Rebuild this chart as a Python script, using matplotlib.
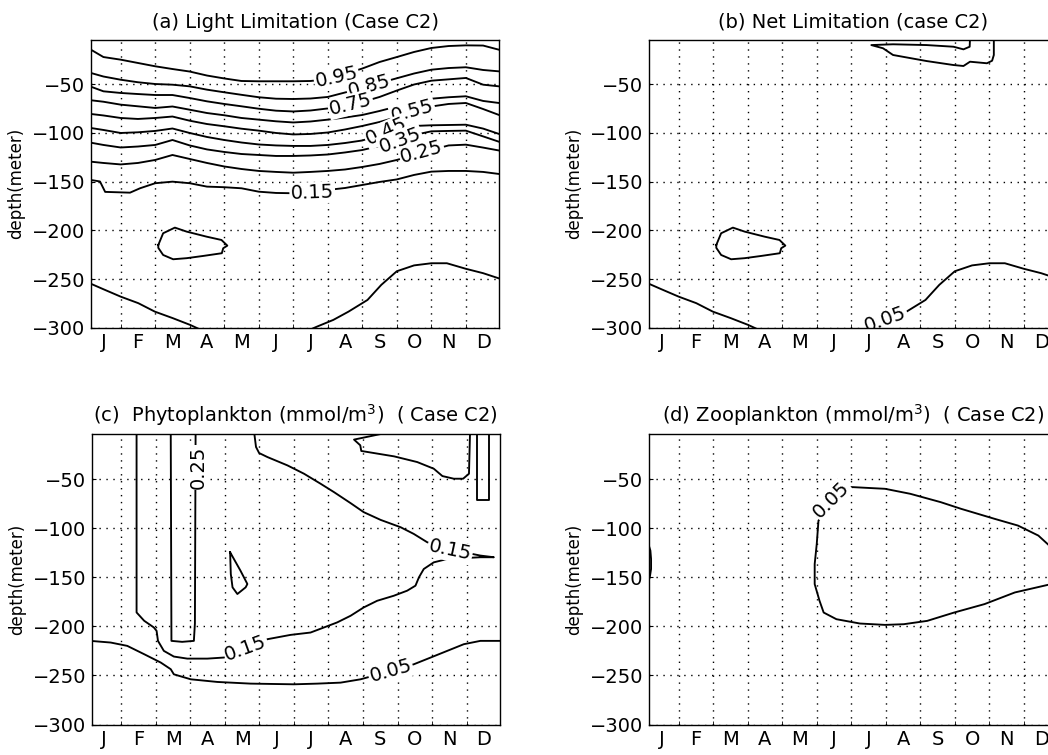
import matplotlib
matplotlib.use("Agg")
import matplotlib.pyplot as plt

plt.rcParams['font.family'] = ['DejaVu Sans']

# ---- axes description -------------------------------------------------
MONTH_LABELS = ['J', 'F', 'M', 'A', 'M', 'J', 'J', 'A', 'S', 'O', 'N', 'D']
DEPTH_TICKS = [-300, -250, -200, -150, -100, -50]
# time axis in months: 0 = 1 Jan, 1 = 1 Feb, ...
XLIM = (0.14, 11.96)

# ---- (a) light limitation: depth (m) of each isoline ------------------
months_a = [0.14, 0.5, 1.0, 1.5, 2.0, 2.5, 3.0, 3.5, 4.0, 4.5, 5.0, 5.5, 6.0,
            6.5, 7.0, 7.5, 8.0, 8.5, 9.0, 9.5, 10.0, 10.5, 11.0, 11.5, 11.96]
light_095 = [-14.5, -22.0, -24.7, -28.1, -31.5, -34.3, -36.9, -41.0, -44.0,
             -46.6, -46.9, -46.9, -46.9, -46.6, -44.6, -39.4, -33.8, -27.1,
             -22.0, -16.8, -12.7, -10.7, -10.0, -10.2, -14.5]
light_085 = [-38.4, -42.0, -45.3, -47.9, -49.7, -50.4, -52.1, -55.5, -58.2,
             -60.8, -63.3, -64.8, -65.1, -64.6, -63.0, -58.4, -53.8, -48.7,
             -43.8, -38.9, -35.0, -33.3, -32.5, -35.3, -36.7]
light_075 = [-52.5, -57.2, -58.9, -60.0, -61.0, -61.0, -64.1, -67.5, -70.2,
             -72.6, -75.1, -77.1, -77.9, -76.9, -74.8, -71.8, -68.2, -63.0,
             -56.4, -50.2, -46.3, -44.9, -43.5, -50.4, -52.1]
light_065 = [-66.4, -67.9, -70.9, -72.6, -74.3, -72.8, -76.1, -79.5, -81.8,
             -84.6, -86.3, -88.0, -89.2, -88.2, -86.3, -84.1, -81.5, -77.4,
             -72.8, -68.2, -64.8, -63.3, -62.3, -67.1, -69.2]
light_055 = [-80.5, -82.0, -84.6, -85.6, -84.6, -83.1, -87.4, -90.8, -93.1,
             -95.6, -97.6, -100.0, -101.5, -101.0, -99.5, -96.4, -92.8, -88.7,
             -83.6, -77.4, -72.8, -70.2, -69.2, -75.4, -81.5]
light_045 = [-94.9, -96.9, -100.0, -99.3, -97.9, -95.4, -100.0, -104.1, -107.2,
             -109.8, -111.8, -112.8, -113.3, -113.3, -112.3, -110.3, -107.7,
             -102.1, -95.9, -92.8, -92.1, -91.8, -91.5, -95.5, -101.0]
light_035 = [-110.0, -112.3, -114.9, -113.9, -112.3, -107.2, -112.8, -116.9,
             -119.5, -121.6, -122.6, -123.6, -123.6, -123.1, -122.1, -120.0,
             -117.5, -113.3, -108.2, -102.1, -98.3, -97.9, -97.6, -103.5, -109.0]
light_025 = [-129.5, -130.8, -132.3, -130.8, -127.7, -122.6, -126.7, -130.8,
             -134.4, -137.0, -139.0, -140.0, -140.8, -140.0, -139.0, -137.5,
             -134.9, -131.8, -127.7, -122.6, -117.5, -112.8, -112.0, -115.0, -118.0]
months_015 = [0.14, 0.40, 0.55, 1.27, 1.56, 2.0, 2.5, 3.0, 3.5, 4.0, 4.5, 5.0,
              5.5, 6.0, 6.5, 7.0, 7.5, 8.0, 8.5, 9.0, 9.5, 10.0, 10.5, 11.0,
              11.5, 11.96]
light_015 = [-148.3, -149.8, -160.5, -161.3, -156.8, -151.6, -150.0, -151.6,
             -155.1, -155.7, -156.8, -160.3, -161.6, -161.9, -160.6, -158.5,
             -156.5, -153.4, -150.3, -147.7, -143.1, -139.7, -139.0, -139.0,
             -140.0, -142.1]

# ---- 0.05 limitation isoline (same in panels a and b) ------------------
lim005_west_m = [0.10, 0.50, 1.0, 1.51, 1.99, 2.51, 3.01, 3.25]
lim005_west_d = [-254.3, -260.5, -268.1, -274.8, -283.5, -290.2, -297.1, -301.0]
lim005_east_m = [6.55, 6.68, 7.16, 7.60, 8.15, 8.55, 9.0, 9.5, 10.0, 10.45,
                 11.0, 11.5, 12.1]
lim005_east_d = [-301.0, -299.0, -292.0, -283.5, -271.5, -256.0, -242.0,
                 -236.0, -233.8, -233.8, -239.5, -244.0, -251.0]
lim005_loop_m = [2.09, 2.23, 2.57, 2.91, 3.49, 3.92, 4.09, 3.97, 3.93, 3.39,
                 2.91, 2.52, 2.23, 2.09, 2.09]
lim005_loop_d = [-215.0, -203.0, -197.2, -201.3, -206.5, -209.9, -215.7,
                 -218.4, -223.5, -226.3, -228.6, -229.7, -225.3, -218.0, -215.0]

# ---- (b) net limitation, near-surface patch ----------------------------
net_top_m = [9.44, 9.43, 9.25, 8.96, 8.18, 7.21, 6.58, 6.92, 7.21, 8.18, 8.96,
             9.25, 9.44, 9.93, 10.08, 10.13, 10.13]
net_top_d = [-3.0, -11.4, -14.1, -11.4, -9.7, -8.9, -9.7, -13.0, -19.9, -26.1,
             -30.2, -31.2, -26.8, -28.4, -25.8, -19.9, -3.0]

# ---- (c) phytoplankton isolines (mmol/m3) ------------------------------
phyto015_m = [1.44, 1.44, 1.66, 1.94, 2.02, 2.06, 2.23, 2.52, 2.91, 3.49, 3.97,
              4.60, 5.23, 5.90, 6.48, 6.87, 7.25, 7.64, 8.02, 8.41, 8.89, 9.28,
              9.52, 9.62, 9.76, 10.05, 10.44, 11.02, 11.40, 11.79, 11.40,
              11.16, 10.52, 9.86, 9.47, 9.09, 8.51, 8.02, 7.64, 7.16, 6.77,
              6.29, 5.81, 5.23, 4.99, 4.90, 4.85]
phyto015_d = [-3.0, -185.7, -194.2, -201.0, -204.5, -214.7, -224.9, -230.7,
              -232.8, -232.8, -231.7, -222.4, -213.0, -208.6, -206.2, -201.0,
              -195.9, -189.1, -180.6, -173.8, -168.7, -163.5, -158.4, -149.9,
              -141.4, -134.6, -131.2, -130.1, -129.4, -129.4, -127.7, -126.0,
              -121.5, -114.1, -105.6, -98.8, -91.3, -83.4, -74.2, -63.0, -54.4,
              -44.2, -35.7, -27.2, -23.1, -16.9, -3.0]
phyto025_m = [2.43, 2.45, 2.76, 3.10, 3.13, 3.15]
phyto025_d = [-3.0, -214.7, -215.7, -214.7, -197.0, -3.0]
phyto_may_m = [4.15, 4.26, 4.45, 4.65, 4.60, 4.36, 4.22, 4.17, 4.15]
phyto_may_d = [-124.3, -131.2, -143.1, -156.7, -160.1, -166.9, -160.1, -146.5, -124.3]
phyto_top_m = [8.61, 7.74, 7.92, 7.95, 8.90, 9.57, 10.05, 10.30, 10.63, 10.90,
               11.07, 11.10]
phyto_top_d = [-3.0, -9.4, -15.2, -21.0, -26.5, -32.3, -39.1, -46.6, -49.3,
               -49.3, -44.2, -3.0]
phyto_dec_m = [11.29, 11.29, 11.65, 11.65]
phyto_dec_d = [-3.0, -71.5, -71.5, -3.0]
phyto005_m = [0.10, 0.69, 1.17, 1.66, 2.14, 2.43, 2.52, 3.01, 3.78, 4.74, 6.00,
              6.68, 7.35, 7.93, 8.80, 9.47, 9.96, 10.44, 10.92, 11.40, 12.0]
phyto005_d = [-214.7, -216.4, -219.8, -228.3, -236.8, -243.6, -248.8, -253.9,
              -256.6, -258.3, -259.0, -258.3, -257.3, -253.9, -245.4, -238.6,
              -231.7, -224.9, -218.1, -214.7, -214.7]

# ---- (d) zooplankton isoline (mmol/m3) ---------------------------------
zoo005_m = [12.1, 11.79, 11.42, 10.83, 10.15, 9.18, 8.59, 7.71, 6.98, 6.00,
            5.05, 5.00, 4.94, 4.94, 5.08, 5.20, 5.57, 6.25, 6.98, 7.52, 8.20,
            8.98, 9.86, 10.74, 11.79, 12.1]
zoo005_d = [-130.0, -119.2, -107.3, -97.1, -90.2, -80.0, -73.2, -64.7, -59.6,
            -57.8, -92.0, -115.8, -136.3, -156.8, -173.8, -185.8, -192.6,
            -197.0, -198.4, -197.7, -194.3, -185.8, -177.2, -165.3, -156.8,
            -152.0]
zoo_edge_m = [0.14, 0.18, 0.20, 0.20, 0.17, 0.14]
zoo_edge_d = [-118.0, -122.6, -131.2, -141.4, -148.2, -152.0]

# ---- styling -----------------------------------------------------------
LINE_KW = dict(color='black', lw=1.35, solid_joinstyle='round', zorder=2)
TICK_FS = 14
LABEL_FS = 14
TITLE_FS = 14


def setup_axes(ax, title, ylim_top):
    ax.set_xlim(*XLIM)
    ax.set_ylim(-300, ylim_top)
    ax.set_axisbelow(True)
    ax.set_xticks([k + 0.5 for k in range(12)])
    ax.set_xticklabels(MONTH_LABELS, fontsize=TICK_FS)
    ax.set_xticks(list(range(1, 12)), minor=True)
    ax.tick_params(axis='x', which='major', length=0, pad=4)
    ax.tick_params(axis='x', which='minor', length=3, direction='in')
    ax.set_yticks(DEPTH_TICKS)
    ax.tick_params(axis='y', which='major', length=3, direction='in',
                   pad=4, labelsize=TICK_FS)
    grid_kw = dict(color='black', lw=1.0, linestyle=(0, (1, 4)))
    ax.grid(True, which='minor', axis='x', **grid_kw)
    ax.grid(True, which='major', axis='y', **grid_kw)
    for s in ax.spines.values():
        s.set_linewidth(1.0)
    ax.set_ylabel('depth(meter)', fontsize=12, labelpad=5)
    ax.set_title(title, fontsize=TITLE_FS, pad=9)


def isoline(ax, m, d):
    ax.plot(m, d, **LINE_KW)


def level_label(ax, level, m, d, rot, clip=False, z=3):
    ax.text(m, d, f"{level:.2f}", rotation=rot, rotation_mode='anchor',
            ha='center', va='center', fontsize=LABEL_FS, zorder=z,
            clip_on=clip,
            bbox=dict(boxstyle='square,pad=0.06', fc='white', ec='none'))


fig = plt.figure(figsize=(10.48, 7.55), dpi=100)
W, H = 1048.0, 755.0
ax_a = fig.add_axes([91 / W, (H - 327.7) / H, 408 / W, 287.7 / H])
ax_b = fig.add_axes([649 / W, (H - 327.7) / H, 408 / W, 287.7 / H])
ax_c = fig.add_axes([91.7 / W, (H - 724.5) / H, 408 / W, 290.2 / H])
ax_d = fig.add_axes([649 / W, (H - 724.5) / H, 408 / W, 290.2 / H])

# (a) Light limitation
setup_axes(ax_a, '(a) Light Limitation (Case C2)', -4.5)
light_lines = [(0.95, light_095), (0.85, light_085), (0.75, light_075),
               (0.65, light_065), (0.55, light_055), (0.45, light_045),
               (0.35, light_035), (0.25, light_025)]
for level, depths in light_lines:
    isoline(ax_a, months_a, depths)
isoline(ax_a, months_015, light_015)
isoline(ax_a, lim005_west_m, lim005_west_d)
isoline(ax_a, lim005_east_m, lim005_east_d)
isoline(ax_a, lim005_loop_m, lim005_loop_d)
level_label(ax_a, 0.95, 7.25, -42.5, 12)
level_label(ax_a, 0.85, 8.19, -51.5, 15)
level_label(ax_a, 0.75, 7.66, -70.8, 14)
level_label(ax_a, 0.55, 9.45, -77.5, 15)
level_label(ax_a, 0.45, 8.70, -98.5, 24)
level_label(ax_a, 0.35, 9.09, -107.3, 20)
level_label(ax_a, 0.25, 9.72, -119.5, 15)
level_label(ax_a, 0.15, 6.55, -161.5, 2)

# (b) Net limitation
setup_axes(ax_b, '(b) Net Limitation (case C2)', -4.5)
isoline(ax_b, lim005_west_m, lim005_west_d)
isoline(ax_b, lim005_east_m, lim005_east_d)
isoline(ax_b, lim005_loop_m, lim005_loop_d)
isoline(ax_b, net_top_m, net_top_d)
level_label(ax_b, 0.05, 6.99, -291.5, 20, clip=True, z=2.3)

# (c) Phytoplankton
setup_axes(ax_c, r'(c)  Phytoplankton (mmol/m$^3$)  ( Case C2)', -4.0)
isoline(ax_c, phyto015_m, phyto015_d)
isoline(ax_c, phyto025_m, phyto025_d)
isoline(ax_c, phyto_may_m, phyto_may_d)
isoline(ax_c, phyto_top_m, phyto_top_d)
isoline(ax_c, phyto_dec_m, phyto_dec_d)
isoline(ax_c, phyto005_m, phyto005_d)
level_label(ax_c, 0.25, 3.22, -38.0, 90)
level_label(ax_c, 0.15, 4.60, -222.0, 20)
level_label(ax_c, 0.15, 10.52, -122.5, -12)
level_label(ax_c, 0.05, 8.80, -245.4, 16)

# (d) Zooplankton
setup_axes(ax_d, r'(d) Zooplankton (mmol/m$^3$)  ( Case C2)', -4.0)
isoline(ax_d, zoo005_m, zoo005_d)
isoline(ax_d, zoo_edge_m, zoo_edge_d)
level_label(ax_d, 0.05, 5.42, -70.5, 45)

fig.savefig('out.png', dpi=100)
